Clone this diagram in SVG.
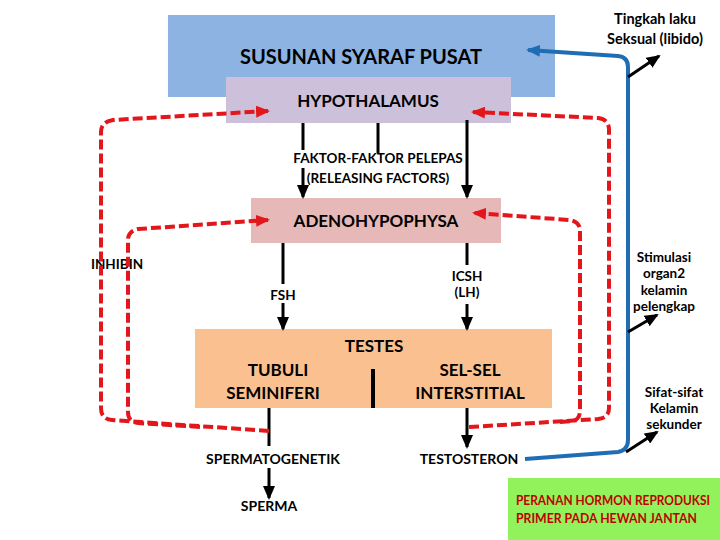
<svg xmlns="http://www.w3.org/2000/svg" width="720" height="540" viewBox="0 0 720 540">
<defs>
<style>
text{font-family:Lato,"Open Sans","Liberation Sans",sans-serif;font-weight:700;fill:#000;text-anchor:middle}
.big{font-size:20px}
.mid{font-size:17px}
.sm{font-size:14px}
.xs{font-size:13.5px}
.red{stroke:#e3161c;stroke-width:4;stroke-dasharray:10 4;fill:none}
.blk{stroke:#000;stroke-width:3;fill:none}
.blue{stroke:#1f6db5;stroke-width:4;fill:none}
</style>
<marker id="ar" markerWidth="14" markerHeight="12" refX="12" refY="6" orient="auto" markerUnits="userSpaceOnUse"><path d="M0,0 L14,6 L0,12 z" fill="#e3161c"/></marker>
<marker id="ablu" markerWidth="14" markerHeight="12" refX="12" refY="6" orient="auto" markerUnits="userSpaceOnUse"><path d="M0,0 L14,6 L0,12 z" fill="#1f6db5"/></marker>
<marker id="ak" markerWidth="14" markerHeight="12" refX="12" refY="6" orient="auto" markerUnits="userSpaceOnUse"><path d="M0,0 L14,6 L0,12 z" fill="#000"/></marker>
</defs>
<g id="ssp"><rect x="168" y="15" width="387" height="82" fill="#8db3e2"/><text class="big" x="361" y="64">SUSUNAN SYARAF PUSAT</text></g>
<g id="hypothalamus"><rect x="226" y="77" width="285" height="46" fill="#ccc0da"/><text class="mid" x="368" y="107">HYPOTHALAMUS</text></g>
<g id="adeno"><rect x="251" y="198" width="250" height="45" fill="#e6b8b7"/><text class="mid" x="376" y="227">ADENOHYPOPHYSA</text></g>
<g id="testes"><rect x="195" y="329" width="357" height="79" fill="#fac090"/><text class="mid" x="374" y="352">TESTES</text><text class="mid" x="278" y="376">TUBULI</text><text class="mid" x="273" y="399">SEMINIFERI</text><text class="mid" x="470" y="376">SEL-SEL</text><text class="mid" x="470" y="399">INTERSTITIAL</text><line x1="373" y1="369" x2="373" y2="408" stroke="#000" stroke-width="4"/></g>
<g id="green"><rect x="508" y="478" width="212" height="62" fill="#92f25c"/><text x="516" y="505" textLength="194" lengthAdjust="spacingAndGlyphs" style="font-size:12.5px;fill:#c00000;text-anchor:start">PERANAN HORMON REPRODUKSI</text><text x="516" y="523" textLength="181" lengthAdjust="spacingAndGlyphs" style="font-size:12.5px;fill:#c00000;text-anchor:start">PRIMER PADA HEWAN JANTAN</text></g>
<g id="labels">
<text class="xs" x="378" y="163">FAKTOR-FAKTOR PELEPAS</text>
<text class="xs" x="378" y="183">(RELEASING FACTORS)</text>
<text class="xs" x="117" y="269">INHIBIN</text>
<text class="xs" x="283" y="300">FSH</text>
<text class="xs" x="467" y="281">ICSH</text>
<text class="xs" x="467" y="297">(LH)</text>
<text class="sm" x="273" y="464">SPERMATOGENETIK</text>
<text class="sm" x="269" y="511">SPERMA</text>
<text class="sm" x="469" y="464">TESTOSTERON</text>
<text class="sm" x="655" y="24" style="font-size:14.5px">Tingkah laku</text>
<text class="sm" x="655" y="44" style="font-size:14.5px">Seksual (libido)</text>
<text class="xs" x="664" y="262">Stimulasi</text>
<text class="xs" x="664" y="278">organ2</text>
<text class="xs" x="664" y="295">kelamin</text>
<text class="xs" x="664" y="311">pelengkap</text>
<text class="xs" x="674" y="397">Sifat-sifat</text>
<text class="xs" x="674" y="413">Kelamin</text>
<text class="xs" x="674" y="429">sekunder</text>
</g>
<g id="connectors">
<line class="blk" x1="303" y1="123" x2="303" y2="150"/>
<line class="blk" x1="303" y1="168" x2="303" y2="197" marker-end="url(#ak)"/>
<line class="blk" x1="378" y1="123" x2="378" y2="153"/>
<line class="blk" x1="467" y1="120" x2="467" y2="197" marker-end="url(#ak)"/>
<line class="blk" x1="283" y1="243" x2="283" y2="284"/>
<line class="blk" x1="283" y1="303" x2="283" y2="329" marker-end="url(#ak)"/>
<line class="blk" x1="467" y1="243" x2="467" y2="265"/>
<line class="blk" x1="467" y1="304" x2="467" y2="329" marker-end="url(#ak)"/>
<line class="blk" x1="269" y1="408" x2="269" y2="446"/>
<line class="blk" x1="269" y1="468" x2="269" y2="498" marker-end="url(#ak)"/>
<line class="blk" x1="467" y1="408" x2="467" y2="447" marker-end="url(#ak)"/>
<path class="red" d="M269,431 L112,420 Q101,419 101,408 L101,132 Q101,122 113,120 L268,111" marker-end="url(#ar)"/>
<path class="red" d="M200,427 L138,423 Q128,422 128,412 L128,240 Q128,231 138,229 L268,220" marker-end="url(#ar)"/>
<path class="red" d="M469,427 L598,419 Q609,418 609,408 L609,130 Q609,119 598,118 L473,112" marker-end="url(#ar)"/>
<path class="red" d="M560,422 L572,421 Q580,420 580,410 L580,231 Q580,222 570,220 L474,213" marker-end="url(#ar)"/>
<path class="blue" d="M525,459 L618,452 Q628,450 628,440 L628,67 Q628,57 618,56 L528,50" marker-end="url(#ablu)"/>
<line class="blk" x1="628" y1="77" x2="659" y2="56" marker-end="url(#ak)"/>
<line class="blk" x1="628" y1="332" x2="657" y2="315" marker-end="url(#ak)"/>
<line class="blk" x1="626" y1="452" x2="657" y2="432" marker-end="url(#ak)"/>
</g>
</svg>
